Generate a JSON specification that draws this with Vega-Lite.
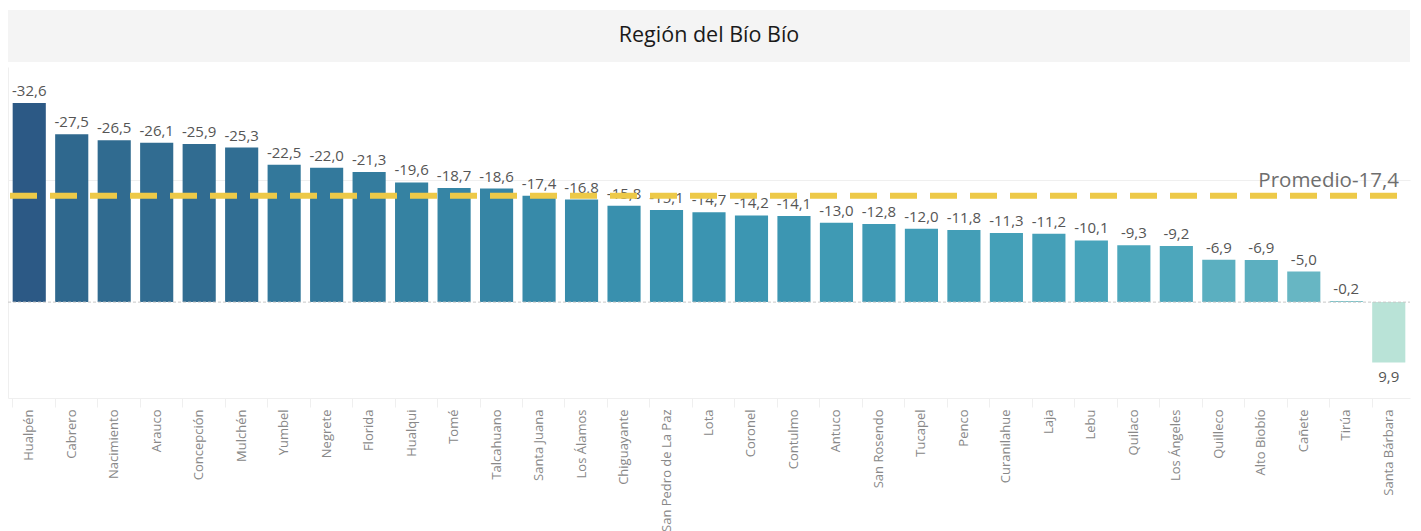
{
  "$schema": "https://vega.github.io/schema/vega-lite/v6.json",
  "padding": {"left": 5, "top": 10, "right": 11, "bottom": 0},
  "background": "white",
  "spacing": 5,
  "config": {
    "locale": {"number": {"decimal": ",", "thousands": ".", "grouping": [3], "currency": ["", ""], "minus": "-"}},
    "font": "Open Sans"
  },
  "vconcat": [
    {
      "width": 1402,
      "height": 52,
      "view": {"stroke": null, "fill": "#f4f4f4"},
      "data": {"values": [{"titulo": "Región del Bío Bío"}]},
      "mark": {"type": "text", "fontSize": 21.5, "color": "#1a1a1a", "font": "Open Sans", "align": "center", "baseline": "middle"},
      "encoding": {"text": {"field": "titulo"}}
    },
    {
      "width": 1402,
      "height": 331,
      "view": {"stroke": null},
      "data": {"values": [
        {"comuna": "Hualpén", "valor": -32.6},
        {"comuna": "Cabrero", "valor": -27.5},
        {"comuna": "Nacimiento", "valor": -26.5},
        {"comuna": "Arauco", "valor": -26.1},
        {"comuna": "Concepción", "valor": -25.9},
        {"comuna": "Mulchén", "valor": -25.3},
        {"comuna": "Yumbel", "valor": -22.5},
        {"comuna": "Negrete", "valor": -22.0},
        {"comuna": "Florida", "valor": -21.3},
        {"comuna": "Hualqui", "valor": -19.6},
        {"comuna": "Tomé", "valor": -18.7},
        {"comuna": "Talcahuano", "valor": -18.6},
        {"comuna": "Santa Juana", "valor": -17.4},
        {"comuna": "Los Álamos", "valor": -16.8},
        {"comuna": "Chiguayante", "valor": -15.8},
        {"comuna": "San Pedro de La Paz", "valor": -15.1},
        {"comuna": "Lota", "valor": -14.7},
        {"comuna": "Coronel", "valor": -14.2},
        {"comuna": "Contulmo", "valor": -14.1},
        {"comuna": "Antuco", "valor": -13.0},
        {"comuna": "San Rosendo", "valor": -12.8},
        {"comuna": "Tucapel", "valor": -12.0},
        {"comuna": "Penco", "valor": -11.8},
        {"comuna": "Curanilahue", "valor": -11.3},
        {"comuna": "Laja", "valor": -11.2},
        {"comuna": "Lebu", "valor": -10.1},
        {"comuna": "Quilaco", "valor": -9.3},
        {"comuna": "Los Ángeles", "valor": -9.2},
        {"comuna": "Quilleco", "valor": -6.94},
        {"comuna": "Alto Biobío", "valor": -6.88},
        {"comuna": "Cañete", "valor": -5.0},
        {"comuna": "Tirúa", "valor": -0.2},
        {"comuna": "Santa Bárbara", "valor": 9.9}
      ]},
      "encoding": {
        "x": {
          "field": "comuna", "type": "nominal", "sort": null,
          "scale": {"paddingInner": 0.22, "paddingOuter": 0.11},
          "axis": {
            "title": null, "labelAngle": 270, "labelColor": "#888888", "labelFontSize": 13, "labelFont": "Open Sans",
            "domainColor": "#efefef", "tickColor": "#efefef", "tickSize": 9, "bandPosition": 0, "labelPadding": 2
          }
        }
      },
      "layer": [
        {
          "mark": {"type": "bar"},
          "encoding": {
            "y": {
              "field": "valor", "type": "quantitative",
              "scale": {"domain": [-38.5, 15.7], "reverse": true, "nice": false, "zero": false},
              "axis": {"title": null, "labels": false, "ticks": false, "domain": true, "domainColor": "#efefef", "grid": true, "gridColor": "#efefef", "values": [-20]}
            },
            "color": {
              "field": "valor", "type": "quantitative", "legend": null,
              "scale": {
                "type": "linear",
                "domain": [-32.6, -26, -20, -15, -10, -5, 0, 9.9],
                "range": ["#2c5985", "#316c91", "#3580a1", "#3a93b0", "#48a4bb", "#67b6c3", "#7bc2c8", "#b9e3d7"]
              }
            }
          }
        },
        {
          "data": {"values": [{"cero": 0}]},
          "mark": {"type": "rule", "color": "#c8c8c8", "strokeDash": [3, 2], "strokeWidth": 1},
          "encoding": {"y": {"field": "cero", "type": "quantitative"}, "x": {"value": 0}, "x2": {"value": "width"}}
        },
        {
          "transform": [{"filter": "datum.valor < 0"}],
          "mark": {"type": "text", "baseline": "bottom", "dy": -4, "fontSize": 15, "color": "#555555", "font": "Open Sans"},
          "encoding": {
            "y": {"field": "valor", "type": "quantitative"},
            "text": {"field": "valor", "type": "quantitative", "format": ".1f"}
          }
        },
        {
          "transform": [{"filter": "datum.valor >= 0"}],
          "mark": {"type": "text", "baseline": "top", "dy": 7, "fontSize": 15, "color": "#555555", "font": "Open Sans"},
          "encoding": {
            "y": {"field": "valor", "type": "quantitative"},
            "text": {"field": "valor", "type": "quantitative", "format": ".1f"}
          }
        },
        {
          "data": {"values": [{"promedio": -17.4, "etiqueta": "Promedio-17,4"}]},
          "mark": {"type": "rule", "color": "#edc948", "strokeWidth": 6, "strokeDash": [27, 13], "strokeDashOffset": -2},
          "encoding": {"y": {"field": "promedio", "type": "quantitative"}, "x": {"value": 0}, "x2": {"value": "width"}}
        },
        {
          "data": {"values": [{"promedio": -17.4, "etiqueta": "Promedio-17,4"}]},
          "mark": {"type": "text", "align": "right", "baseline": "alphabetic", "dy": -9, "dx": -11, "fontSize": 20.5, "color": "#6e6e6e", "font": "Open Sans"},
          "encoding": {
            "y": {"field": "promedio", "type": "quantitative"},
            "x": {"value": "width"},
            "text": {"field": "etiqueta"}
          }
        }
      ]
    }
  ]
}
